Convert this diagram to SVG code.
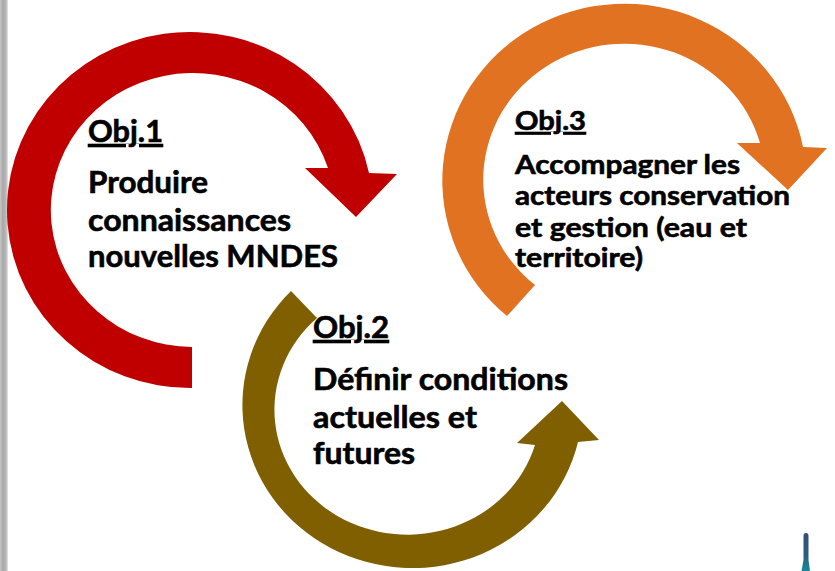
<svg xmlns="http://www.w3.org/2000/svg" width="835" height="571" viewBox="0 0 835 571">
  <defs>
    <linearGradient id="edge" x1="0" y1="0" x2="1" y2="0">
      <stop offset="0" stop-color="#c8c8c8"/>
      <stop offset="0.35" stop-color="#a8a8a8"/>
      <stop offset="0.75" stop-color="#b8b8b8"/>
      <stop offset="1" stop-color="#e8e8e8"/>
    </linearGradient>
    <linearGradient id="pin" x1="0" y1="0" x2="0" y2="1">
      <stop offset="0" stop-color="#344f78"/>
      <stop offset="0.6" stop-color="#2a5f80"/>
      <stop offset="1" stop-color="#18889a"/>
    </linearGradient>
  </defs>
  <style>
    .t { font-family: Lato, "Liberation Sans", sans-serif; font-weight: bold; fill: #000; stroke: #000; stroke-width: 0.6px; }
    .h { text-decoration: underline; }
    .big { font-size: 30px; }
    .mid { font-size: 26px; }
  </style>
  <rect x="0" y="0" width="835" height="571" fill="#ffffff"/>
  <rect x="0" y="0" width="8" height="571" fill="url(#edge)"/>

  <g id="connectors">
    <path id="arrow-red" fill="#c00000" d="M192,388 A183,178 0 1 1 369,173 L397,174 L356,217 L305,168 L328,168 A142,137 0 1 0 192,347 Z"/>
    <path id="arrow-orange" fill="#e17222" d="M507,316 A182,177 0 1 1 803,147 L827,148 L788,190 L737,143 L760,143 A141,136 0 1 0 535,285 Z"/>
    <path id="arrow-brown" fill="#7f5f00" d="M291,291 A170,163 0 1 0 578,442 L599,440 L562,401 L517,443 L535,445 A133,125 0 1 1 317,318 Z"/>
  </g>

  <g id="obj1">
    <text class="t big h" x="88" y="142" textLength="75" lengthAdjust="spacingAndGlyphs">Obj.1</text>
    <text class="t big" x="88" y="193" textLength="120" lengthAdjust="spacingAndGlyphs">Produire</text>
    <text class="t big" x="88" y="231" textLength="203" lengthAdjust="spacingAndGlyphs">connaissances</text>
    <text class="t big" x="88" y="267" textLength="250" lengthAdjust="spacingAndGlyphs">nouvelles MNDES</text>
  </g>

  <g id="obj2">
    <text class="t big h" x="313" y="338" textLength="76" lengthAdjust="spacingAndGlyphs">Obj.2</text>
    <text class="t big" x="313" y="390" textLength="255" lengthAdjust="spacingAndGlyphs">Définir conditions</text>
    <text class="t big" x="313" y="428" textLength="164" lengthAdjust="spacingAndGlyphs">actuelles et</text>
    <text class="t big" x="313" y="464" textLength="102" lengthAdjust="spacingAndGlyphs">futures</text>
  </g>

  <g id="obj3">
    <text class="t mid h" x="515" y="130" textLength="71" lengthAdjust="spacingAndGlyphs">Obj.3</text>
    <text class="t mid" x="515" y="174" textLength="225" lengthAdjust="spacingAndGlyphs">Accompagner les</text>
    <text class="t mid" x="515" y="205" textLength="275" lengthAdjust="spacingAndGlyphs">acteurs conservation</text>
    <text class="t mid" x="515" y="237" textLength="232" lengthAdjust="spacingAndGlyphs">et gestion (eau et</text>
    <text class="t mid" x="515" y="267" textLength="128" lengthAdjust="spacingAndGlyphs">territoire)</text>
  </g>

  <path id="corner-object" fill="url(#pin)" d="M803.5,536 Q803.5,533 806,533 Q808.5,533 808.5,536 L808.5,560 L810,571 L801.5,571 L803.5,560 Z"/>
</svg>
